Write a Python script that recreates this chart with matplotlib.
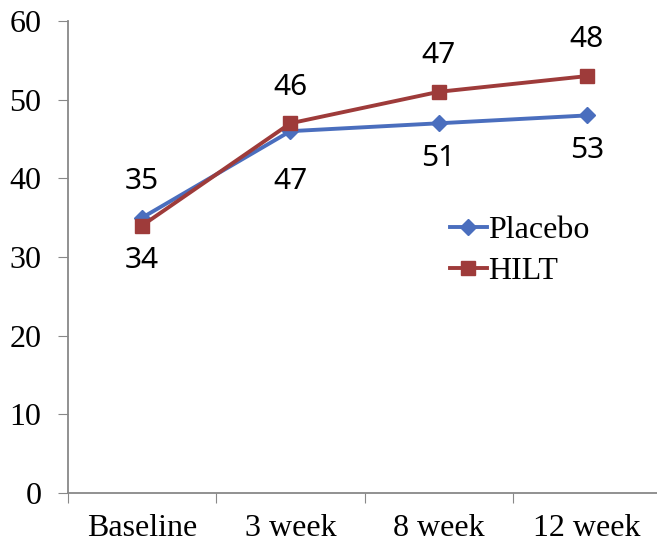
import matplotlib.pyplot as plt

categories = ["Baseline", "3 week", "8 week", "12 week"]
placebo = [35, 46, 47, 48]
hilt = [34, 47, 51, 53]
# labels as printed on the chart
top_labels = ["35", "46", "47", "48"]
bottom_labels = ["34", "47", "51", "53"]

fig = plt.figure(figsize=(6.57, 5.45), dpi=100)
ax = fig.add_axes([0.1035, 0.0954, 0.9026, 0.866])

x = list(range(len(categories)))
ax.plot(x, placebo, color="#4a6ebe", lw=2.8, marker="D", ms=8, label="Placebo")
ax.plot(x, hilt, color="#9e3b3a", lw=2.8, marker="s", ms=9.5, label="HILT")

for i in x:
    hi = max(placebo[i], hilt[i])
    lo = min(placebo[i], hilt[i])
    ax.annotate(top_labels[i], (i, hi), xytext=(0, 26), textcoords="offset points",
                ha="center", va="center", fontsize=21.5, family="Noto Sans")
    dy = -36 if i == 1 else -25
    ax.annotate(bottom_labels[i], (i, lo), xytext=(0, dy), textcoords="offset points",
                ha="center", va="center", fontsize=21.5, family="Noto Sans")

ax.set_xlim(-0.5, 3.5)
ax.set_ylim(0, 60)
ax.set_yticks(range(0, 61, 10))
ax.set_xticks([-0.5, 0.5, 1.5, 2.5, 3.5])
ax.set_xticklabels([])
ax.set_xticks(x, minor=True)
ax.set_xticklabels(categories, minor=True)
ax.tick_params(axis="x", which="minor", length=0, pad=15)
ax.tick_params(axis="x", which="major", length=7, color="#888888", direction="out")
ax.tick_params(axis="y", length=7, color="#888888", direction="out", pad=12)
for lab in ax.get_xticklabels(minor=True) + ax.get_yticklabels():
    lab.set_family("Liberation Serif")
    lab.set_fontsize(23)

for s in ["top", "right"]:
    ax.spines[s].set_visible(False)
for s in ["left", "bottom"]:
    ax.spines[s].set_color("#888888")
    ax.spines[s].set_linewidth(1.3)

ax.legend(loc="center left", bbox_to_anchor=(0.644, 0.513), frameon=False,
          prop={"family": "Liberation Serif", "size": 23}, handlelength=1.15,
          handletextpad=0.05, labelspacing=0.35, borderpad=0, borderaxespad=0)

fig.savefig("out.png", dpi=100)
